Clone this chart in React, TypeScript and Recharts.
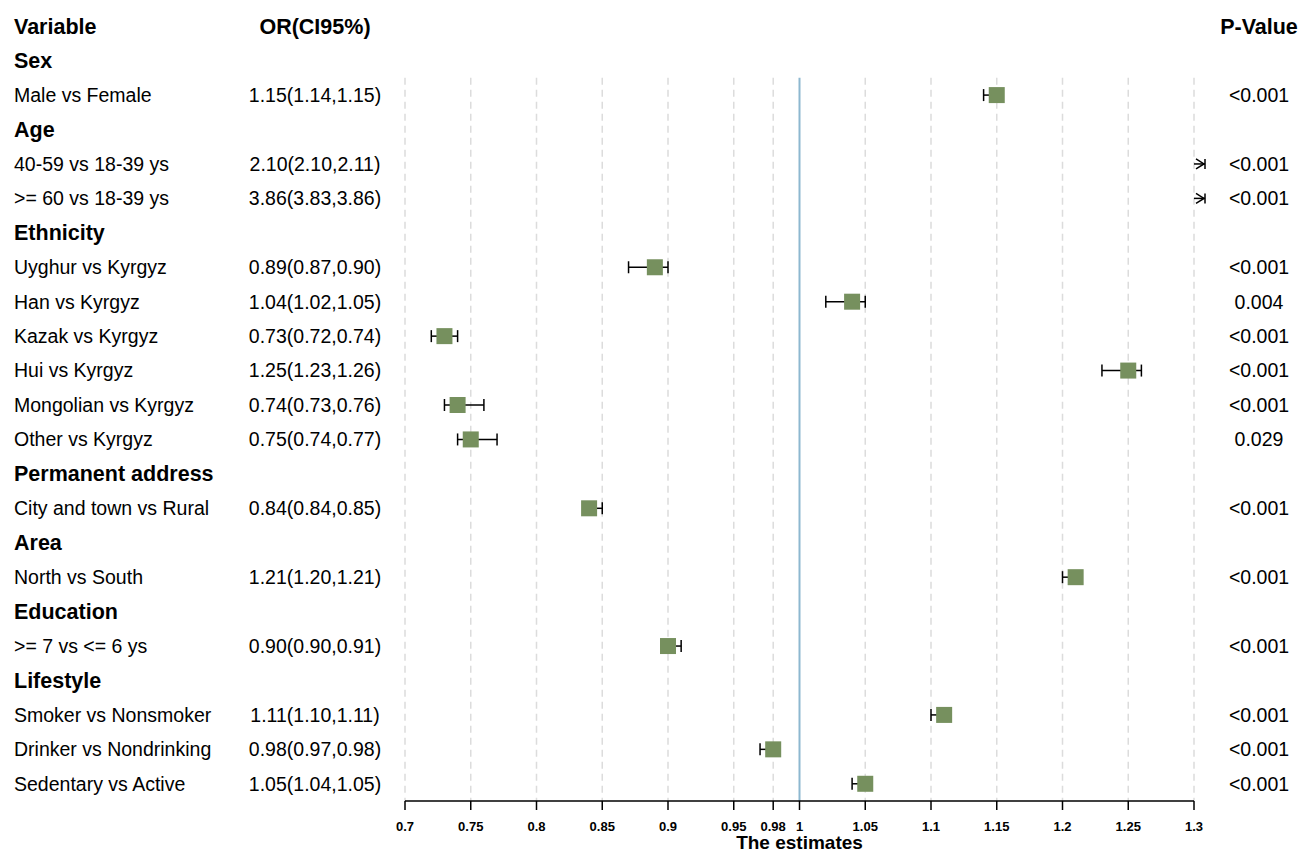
import { ScatterChart, Scatter, XAxis, YAxis, ErrorBar, ReferenceLine } from 'recharts';

const headers = ['Variable', 'OR(CI95%)', 'P-Value'];

const variables = [
  'Sex', 'Male vs Female',
  'Age', '40-59 vs 18-39 ys', '>= 60 vs 18-39 ys',
  'Ethnicity', 'Uyghur vs Kyrgyz', 'Han vs Kyrgyz', 'Kazak vs Kyrgyz', 'Hui vs Kyrgyz', 'Mongolian vs Kyrgyz', 'Other vs Kyrgyz',
  'Permanent address', 'City and town vs Rural',
  'Area', 'North vs South',
  'Education', '>= 7 vs <= 6 ys',
  'Lifestyle', 'Smoker vs Nonsmoker', 'Drinker vs Nondrinking', 'Sedentary vs Active',
];

const orLabels = [
  '', '1.15(1.14,1.15)',
  '', '2.10(2.10,2.11)', '3.86(3.83,3.86)',
  '', '0.89(0.87,0.90)', '1.04(1.02,1.05)', '0.73(0.72,0.74)', '1.25(1.23,1.26)', '0.74(0.73,0.76)', '0.75(0.74,0.77)',
  '', '0.84(0.84,0.85)',
  '', '1.21(1.20,1.21)',
  '', '0.90(0.90,0.91)',
  '', '1.11(1.10,1.11)', '0.98(0.97,0.98)', '1.05(1.04,1.05)',
];

const pValues = [
  '', '<0.001',
  '', '<0.001', '<0.001',
  '', '<0.001', '0.004', '<0.001', '<0.001', '<0.001', '0.029',
  '', '<0.001',
  '', '<0.001',
  '', '<0.001',
  '', '<0.001', '<0.001', '<0.001',
];

const estimates = [null, 1.15, null, 2.10, 3.86, null, 0.89, 1.04, 0.73, 1.25, 0.74, 0.75, null, 0.84, null, 1.21, null, 0.90, null, 1.11, 0.98, 1.05];
const lower = [null, 1.14, null, 2.10, 3.83, null, 0.87, 1.02, 0.72, 1.23, 0.73, 0.74, null, 0.84, null, 1.20, null, 0.90, null, 1.10, 0.97, 1.04];
const upper = [null, 1.15, null, 2.11, 3.86, null, 0.90, 1.05, 0.74, 1.26, 0.76, 0.77, null, 0.85, null, 1.21, null, 0.91, null, 1.11, 0.98, 1.05];

const xTicks = [0.7, 0.75, 0.8, 0.85, 0.9, 0.95, 0.98, 1, 1.05, 1.1, 1.15, 1.2, 1.25, 1.3];
const xMin = 0.7;
const xMax = 1.3;

const font = '"Liberation Sans", Arial, sans-serif';
const rows = variables.map((_, i) => i);

// estimates past the right edge are pinned to it and drawn as an arrow
const data: any[] = [];
estimates.forEach((est, i) => {
  if (est == null) return;
  const over = est > xMax;
  data.push({
    row: i,
    x: Math.min(est, xMax),
    over,
    err: over ? undefined : [est - (lower[i] as number), (upper[i] as number) - est],
  });
});
const inRange = data.filter((d) => !d.over);

function RowTick(props: any) {
  const { y, payload } = props;
  const i = payload.value;
  if (i < 0) {
    return (
      <g fontFamily={font} fontSize={21.5} fontWeight="bold" fill="#000">
        <text x={14} y={y} dy="0.35em">{headers[0]}</text>
        <text x={315} y={y} dy="0.35em" textAnchor="middle">{headers[1]}</text>
        <text x={1259} y={y} dy="0.35em" textAnchor="middle">{headers[2]}</text>
      </g>
    );
  }
  const group = orLabels[i] === '';
  return (
    <g fontFamily={font} fontSize={group ? 21.5 : 19.5} fontWeight={group ? 'bold' : 'normal'} fill="#000">
      <text x={14} y={y} dy="0.35em">{variables[i]}</text>
      {!group && <text x={315} y={y} dy="0.35em" textAnchor="middle">{orLabels[i]}</text>}
      {!group && <text x={1259} y={y} dy="0.35em" textAnchor="middle">{pValues[i]}</text>}
    </g>
  );
}

function Arrow(props: any) {
  const { cx, cy, payload } = props;
  if (!payload.over) return <g />;
  return (
    <g stroke="#000" strokeWidth={1.5} fill="none">
      <line x1={cx} x2={cx + 11} y1={cy} y2={cy} />
      <polyline points={`${cx + 2},${cy - 5} ${cx + 10},${cy} ${cx + 2},${cy + 5}`} />
      <line x1={cx + 11} x2={cx + 11} y1={cy - 5} y2={cy + 5} />
    </g>
  );
}

function Square(props: any) {
  const { cx, cy } = props;
  return <rect x={cx - 8} y={cy - 8} width={16} height={16} fill="#76905E" />;
}

export default function App() {
  return (
    <div style={{ position: 'absolute', left: 0, top: 0, background: '#fff' }}>
      <ScatterChart width={1302} height={854} margin={{ top: 9, right: 108, bottom: 0, left: 0 }}>
        <XAxis
          type="number"
          dataKey="x"
          domain={[xMin, xMax]}
          ticks={xTicks}
          interval={0}
          height={53}
          tickSize={9}
          tickMargin={12}
          axisLine={{ stroke: '#000', strokeWidth: 1.5 }}
          tickLine={{ stroke: '#000', strokeWidth: 1.5 }}
          tick={{ fill: '#000', fontSize: 13, fontWeight: 'bold', fontFamily: font }}
          label={{ value: 'The estimates', position: 'insideBottom', offset: 5, fill: '#000', fontSize: 19, fontWeight: 'bold', fontFamily: font }}
        />
        <YAxis
          type="number"
          dataKey="row"
          domain={[-1.5, 21.5]}
          reversed
          ticks={[-1, ...rows]}
          interval={0}
          width={405}
          axisLine={false}
          tickLine={false}
          tick={<RowTick />}
        />
        {xTicks.filter((t) => t !== 1).map((t) => (
          <ReferenceLine
            key={t}
            segment={[{ x: t, y: 0.5 }, { x: t, y: 21.5 }]}
            stroke="#dcdcdc"
            strokeWidth={1.5}
            strokeDasharray="7 5"
          />
        ))}
        <ReferenceLine segment={[{ x: 1, y: 0.5 }, { x: 1, y: 21.5 }]} stroke="#8DB8D0" strokeWidth={2} />
        <Scatter data={data} shape={<Arrow />} isAnimationActive={false}>
          <ErrorBar dataKey="err" direction="x" width={6} stroke="#000" strokeWidth={1.5} />
        </Scatter>
        <Scatter data={inRange} shape={<Square />} isAnimationActive={false} />
      </ScatterChart>
    </div>
  );
}
